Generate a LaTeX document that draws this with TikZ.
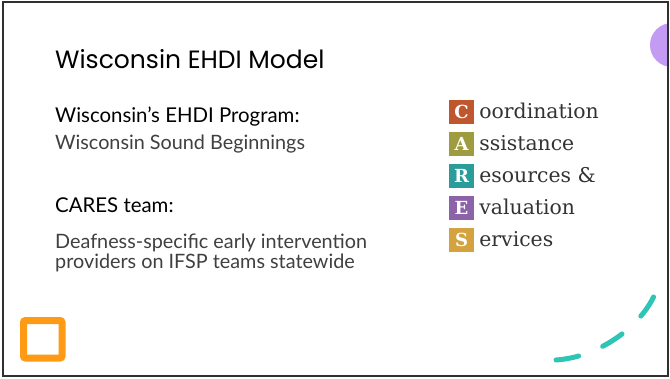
\documentclass[tikz,border=0pt]{standalone}
\usepackage{fontspec}
\setmainfont{Lato}
\newfontfamily\titlefont{Poppins}
\newfontfamily\caresfont{DejaVu Serif}

\definecolor{caresC}{HTML}{C0562E}
\definecolor{caresA}{HTML}{9E9C3E}
\definecolor{caresR}{HTML}{2A9D9A}
\definecolor{caresE}{HTML}{8C62A9}
\definecolor{caresS}{HTML}{D4A23E}
\definecolor{bodygray}{HTML}{404040}
\definecolor{wordgray}{HTML}{333333}
\definecolor{dashteal}{HTML}{2EC4B6}
\definecolor{blobpurple}{HTML}{C39BF2}
\definecolor{squareorange}{HTML}{FF9A15}
\definecolor{framegray}{HTML}{303030}

\begin{document}
\begin{tikzpicture}[x=1pt,y=-1pt,
	heading/.style={anchor=base west,inner sep=0pt,font=\fontsize{20.4}{24}\selectfont},
	body/.style={anchor=base west,inner sep=0pt,text=bodygray,align=left,font=\fontsize{19.8}{20}\selectfont},
	letterbox/.style={minimum width=25pt,minimum height=24pt,inner sep=0pt,text=white,font=\caresfont\bfseries\fontsize{18}{18}\selectfont},
	word/.style={anchor=base west,inner sep=0pt,text=wordgray,font=\caresfont\fontsize{20.4}{20}\selectfont}]
			\useasboundingbox (0,0) rectangle (670,378);
			\fill[white] (0,0) rectangle (670,378);

			% corner shapes
			\begin{scope}
				\clip (3,2) rectangle (668,376);
				\fill[blobpurple] (672,45) circle (22);
			\end{scope}
			\draw[squareorange,line width=7pt,rounded corners=2pt] (23.5,320.5) rectangle (62,358);
			\draw[dashteal,line width=5pt,line cap=round,dash pattern=on 23pt off 26pt]
				(556,360) .. controls (600,357) and (640,326) .. (654,296);

			% left column
			\node[anchor=base west,inner sep=0pt,font=\titlefont\fontsize{25}{28}\selectfont] (title) at (55,68) {Wisconsin EHDI Model};
			\node[heading] (prog) at (55,122) {Wisconsin’s EHDI Program:};
			\node[body] (sound) at (55,149) {Wisconsin Sound Beginnings};
			\node[heading] (team) at (55,212) {CARES team:};
			\node[body] (desc) at (55,268) {Deafness-specific early intervention\\providers on IFSP teams statewide};

			% CARES letters
			\node[letterbox,fill=caresC] (C) at (461.5,112) {C};
			\node[letterbox,fill=caresA] (A) at (461.5,144) {A};
			\node[letterbox,fill=caresR] (R) at (461.5,176) {R};
			\node[letterbox,fill=caresE] (E) at (461.5,208) {E};
			\node[letterbox,fill=caresS] (S) at (461.5,240) {S};
			\node[word] (wC) at ([xshift=5pt]C.base east) {oordination};
			\node[word] (wA) at ([xshift=5pt]A.base east) {ssistance};
			\node[word] (wR) at ([xshift=5pt]R.base east) {esources \&};
			\node[word] (wE) at ([xshift=5pt]E.base east) {valuation};
			\node[word] (wS) at ([xshift=5pt]S.base east) {ervices};

			% slide frame
			\draw[framegray,line width=2pt] (3,2) rectangle (668,376);
\end{tikzpicture}
\end{document}
